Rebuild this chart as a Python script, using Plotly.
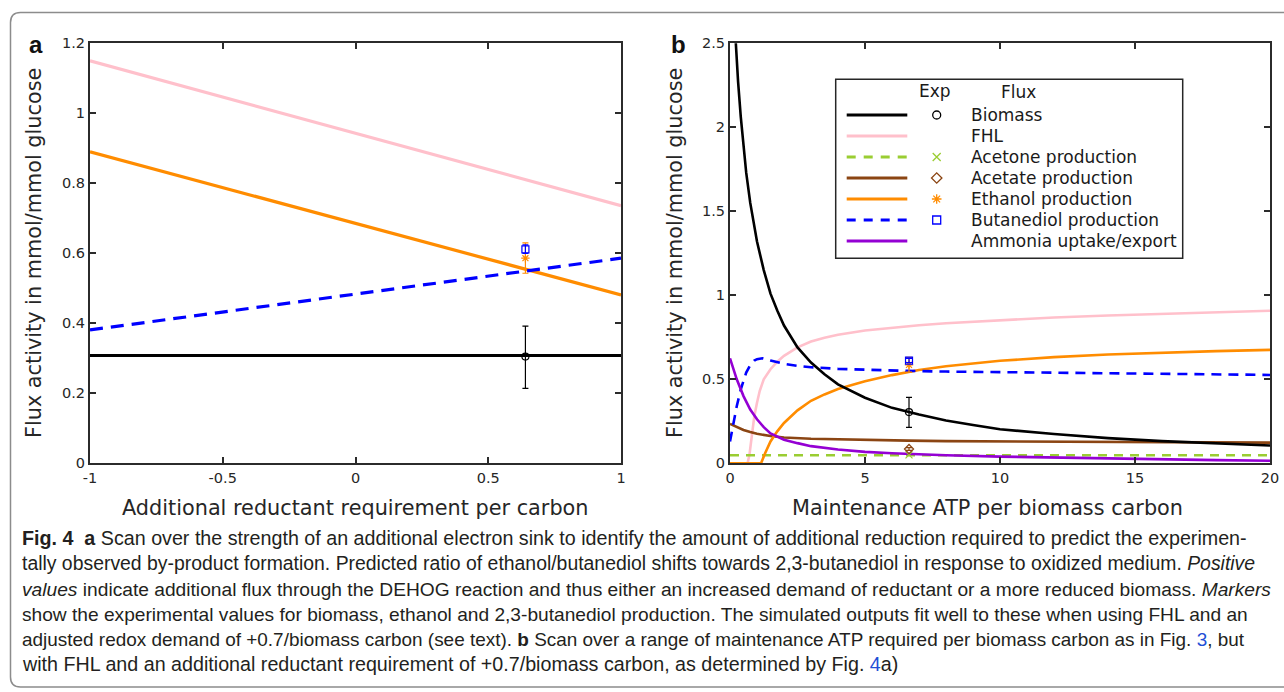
import plotly.graph_objects as go

W, H = 1284, 692

# ---------------- data ----------------
# Panel a: additional reductant requirement per carbon
a_x = [-1, -0.5, 0, 0.5, 1]
a_biomass = [0.308, 0.308, 0.308, 0.308, 0.308]
a_fhl = [1.150, 1.046, 0.943, 0.839, 0.736]
a_ethanol = [0.890, 0.788, 0.686, 0.583, 0.481]
a_butanediol = [0.381, 0.432, 0.484, 0.535, 0.586]

# experimental points (shared by both panels)
exp_x_a = 0.64
exp_x_b = 6.63
exp_biomass = 0.305
exp_biomass_err = (0.087, 0.091)
exp_ethanol = 0.586
exp_ethanol_err = (0.044, 0.043)
exp_butanediol = 0.611
exp_butanediol_err = (0.013, 0.011)
exp_acetone = 0.05
exp_acetate = 0.085
exp_acetate_err = (0.008, 0.008)

# Panel b: maintenance ATP per biomass carbon
b_biomass_x = [0.15, 0.2, 0.3, 0.4, 0.5, 0.6, 0.75, 0.9, 1.0, 1.25, 1.5, 1.75, 2, 2.5, 3, 3.5, 4, 5, 6, 7, 8, 9, 10, 12, 14, 16, 18, 20]
b_biomass = [2.68, 2.53, 2.27, 2.06, 1.88, 1.73, 1.55, 1.40, 1.32, 1.15, 1.01, 0.91, 0.82, 0.69, 0.60, 0.53, 0.47, 0.39, 0.33, 0.29, 0.255, 0.228, 0.203, 0.174, 0.150, 0.132, 0.118, 0.106]

b_fhl_x = [0, 0.65, 0.72, 0.8, 0.9, 1.0, 1.1, 1.25, 1.5, 1.75, 2, 2.5, 3, 3.5, 4, 5, 6, 7, 8, 10, 12, 14, 16, 18, 20]
b_fhl = [0, 0, 0.05, 0.15, 0.28, 0.36, 0.43, 0.50, 0.56, 0.605, 0.64, 0.69, 0.725, 0.748, 0.765, 0.79, 0.808, 0.822, 0.834, 0.852, 0.868, 0.880, 0.890, 0.899, 0.908]

b_acetone_x = [0, 20]
b_acetone = [0.048, 0.048]

b_acetate_x = [0, 0.25, 0.5, 0.75, 1, 1.5, 2, 3, 4, 5, 6.6, 8, 10, 12, 14, 16, 18, 20]
b_acetate = [0.235, 0.215, 0.198, 0.186, 0.176, 0.162, 0.154, 0.146, 0.142, 0.139, 0.135, 0.132, 0.130, 0.128, 0.127, 0.125, 0.124, 0.123]

b_ethanol_x = [0, 1.15, 1.3, 1.5, 1.75, 2, 2.5, 3, 3.5, 4, 5, 6, 7, 8, 10, 12, 14, 16, 18, 20]
b_ethanol = [0, 0, 0.06, 0.13, 0.19, 0.24, 0.315, 0.372, 0.41, 0.442, 0.488, 0.525, 0.555, 0.578, 0.61, 0.632, 0.648, 0.66, 0.668, 0.675]

b_butanediol_x = [0, 0.1, 0.25, 0.4, 0.5, 0.6, 0.75, 0.9, 1.0, 1.2, 1.5, 2, 2.5, 3, 4, 5, 6.6, 8, 10, 12, 14, 16, 18, 20]
b_butanediol = [0.13, 0.22, 0.34, 0.44, 0.49, 0.54, 0.585, 0.612, 0.62, 0.625, 0.612, 0.592, 0.58, 0.572, 0.562, 0.556, 0.55, 0.546, 0.542, 0.538, 0.535, 0.532, 0.529, 0.526]

b_ammonia_x = [0, 0.25, 0.5, 0.75, 1, 1.25, 1.5, 2, 2.5, 3, 4, 5, 6, 7, 8, 10, 12, 14, 16, 18, 20]
b_ammonia = [0.625, 0.50, 0.40, 0.32, 0.262, 0.215, 0.178, 0.14, 0.12, 0.102, 0.082, 0.068, 0.06, 0.053, 0.048, 0.04, 0.034, 0.028, 0.023, 0.019, 0.015]

# legend / series styling
series_names = ["Biomass", "FHL", "Acetone production", "Acetate production",
                "Ethanol production", "Butanediol production", "Ammonia uptake/export"]
series_colors = ["#000000", "#ffc0cb", "#9acd32", "#8b4513", "#ff8c00", "#0000ff", "#9400d3"]
series_dash = ["solid", "solid", "dash", "solid", "solid", "dash", "solid"]
series_symbols = ["circle-open", None, "x-thin-open", "diamond-open", "asterisk-open", "square-open", None]

a_ticks = [-1, -0.5, 0, 0.5, 1]
a_ticktext = ["-1", "-0.5", "0", "0.5", "1"]

# ---------------- layout helpers ----------------
def px_x(p):
    return p / W

def px_y(p):
    return 1 - p / H

A_X0, A_X1 = 90, 621
B_X0, B_X1 = 730, 1270
P_Y0, P_Y1 = 43.3, 463.3

AX_COL = "#2b2b2b"
TICK_FONT = dict(family="DejaVu Sans", size=14.5, color="#262626")

fig = go.Figure()

C = dict(zip(series_names, series_colors))
D = dict(zip(series_names, series_dash))

DASH_A = "13px,8px"
DASH_B = "10px,7px"
DASH_G = "9px,7px"


def dash_for(name, panel):
    if D[name] != "dash":
        return "solid"
    if name == "Acetone production":
        return DASH_G
    return DASH_A if panel == "a" else DASH_B

# ----- panel a traces -----
for name, ys in [("FHL", a_fhl), ("Ethanol production", a_ethanol),
                 ("Butanediol production", a_butanediol), ("Biomass", a_biomass)]:
    fig.add_trace(go.Scatter(x=a_x, y=ys, mode="lines", xaxis="x", yaxis="y",
                             line=dict(color=C[name], width=3.2, dash=dash_for(name, "a")),
                             showlegend=False, hoverinfo="skip"))

def exp_point(xv, yv, err, name, xa, ya):
    sym = dict(zip(series_names, series_symbols))[name]
    kw = {}
    if err is not None:
        kw["error_y"] = dict(type="data", symmetric=False, array=[err[0]], arrayminus=[err[1]],
                             color=C[name] if name != "Biomass" else "#000000",
                             thickness=1.2, width=3)
    fig.add_trace(go.Scatter(x=[xv], y=[yv], mode="markers", xaxis=xa, yaxis=ya,
                             marker=dict(symbol=sym, size=7, color=C[name],
                                         line=dict(color=C[name], width=1.2)),
                             showlegend=False, hoverinfo="skip", cliponaxis=False, **kw))

exp_point(exp_x_a, exp_biomass, exp_biomass_err, "Biomass", "x", "y")
exp_point(exp_x_a, exp_ethanol, exp_ethanol_err, "Ethanol production", "x", "y")
exp_point(exp_x_a, exp_butanediol, exp_butanediol_err, "Butanediol production", "x", "y")

# ----- panel b traces -----
b_series = [("Biomass", b_biomass_x, b_biomass), ("FHL", b_fhl_x, b_fhl),
            ("Acetone production", b_acetone_x, b_acetone),
            ("Acetate production", b_acetate_x, b_acetate),
            ("Ethanol production", b_ethanol_x, b_ethanol),
            ("Butanediol production", b_butanediol_x, b_butanediol),
            ("Ammonia uptake/export", b_ammonia_x, b_ammonia)]
order_b = ["FHL", "Acetone production", "Acetate production", "Ethanol production",
           "Butanediol production", "Biomass", "Ammonia uptake/export"]
bmap = {n: (xs, ys) for n, xs, ys in b_series}
for name in order_b:
    xs, ys = bmap[name]
    fig.add_trace(go.Scatter(x=xs, y=ys, mode="lines", xaxis="x2", yaxis="y2",
                             line=dict(color=C[name], width=2.6, dash=dash_for(name, "b")),
                             showlegend=False, hoverinfo="skip"))

exp_point(exp_x_b, exp_biomass, exp_biomass_err, "Biomass", "x2", "y2")
exp_point(exp_x_b, exp_acetone, None, "Acetone production", "x2", "y2")
exp_point(exp_x_b, exp_acetate, exp_acetate_err, "Acetate production", "x2", "y2")
exp_point(exp_x_b, exp_ethanol, exp_ethanol_err, "Ethanol production", "x2", "y2")
exp_point(exp_x_b, exp_butanediol, exp_butanediol_err, "Butanediol production", "x2", "y2")

# ----- legend (drawn on helper axis x3/y3 in local pixel units) -----
LG_X0, LG_X1, LG_Y0, LG_Y1 = 835.7, 1182.7, 79.3, 258.3
lg_w, lg_h = LG_X1 - LG_X0, LG_Y1 - LG_Y0
ROW0, ROWSTEP = 35.7, 21.0
for i, name in enumerate(series_names):
    ry = ROW0 + i * ROWSTEP
    fig.add_trace(go.Scatter(x=[11, 71.6], y=[ry, ry], mode="lines", xaxis="x3", yaxis="y3",
                             line=dict(color=C[name], width=3.2,
                                       dash=("9px,8px" if D[name] == "dash" else "solid")),
                             showlegend=False, hoverinfo="skip"))
    sym = series_symbols[i]
    if sym:
        fig.add_trace(go.Scatter(x=[101], y=[ry], mode="markers", xaxis="x3", yaxis="y3",
                                 marker=dict(symbol=sym, size=8, color=C[name],
                                             line=dict(color=C[name], width=1.3)),
                                 showlegend=False, hoverinfo="skip"))

annotations = []
LEG_FONT = dict(family="DejaVu Sans", size=17, color="#1a1a1a")
annotations.append(dict(x=99.3, y=11.4, xref="x3", yref="y3", text="Exp", showarrow=False,
                        font=LEG_FONT, xanchor="center", yanchor="middle"))
annotations.append(dict(x=183, y=13, xref="x3", yref="y3", text="Flux", showarrow=False,
                        font=LEG_FONT, xanchor="center", yanchor="middle"))
for i, name in enumerate(series_names):
    annotations.append(dict(x=133.3, y=ROW0 + i * ROWSTEP, xref="x3", yref="y3", text=name,
                            showarrow=False, font=LEG_FONT, xanchor="left", yanchor="middle"))

shapes = []
shapes.append(dict(type="rect", xref="paper", yref="paper",
                   x0=px_x(LG_X0), x1=px_x(LG_X1), y0=px_y(LG_Y1), y1=px_y(LG_Y0),
                   line=dict(color="#262626", width=1.5), fillcolor="white", layer="below"))

# outer rounded frame (right side runs off the page)
fl, ft, fb, r = 10.5, 12.5, 687, 10
path = (f"M {px_x(1300)},{px_y(ft)} L {px_x(fl + r)},{px_y(ft)} "
        f"Q {px_x(fl)},{px_y(ft)} {px_x(fl)},{px_y(ft + r)} "
        f"L {px_x(fl)},{px_y(fb - r)} Q {px_x(fl)},{px_y(fb)} {px_x(fl + r)},{px_y(fb)} "
        f"L {px_x(1300)},{px_y(fb)}")
shapes.append(dict(type="path", path=path, xref="paper", yref="paper",
                   line=dict(color="#8c8c8c", width=1.5), layer="below"))

# axis titles & panel letters
TITLE_FONT = dict(family="DejaVu Sans", size=20.8, color="#262626")
annotations += [
    dict(x=px_x(355), y=px_y(508), xref="paper", yref="paper", showarrow=False,
         text="Additional reductant requirement per carbon", font=TITLE_FONT,
         xanchor="center", yanchor="middle"),
    dict(x=px_x(987), y=px_y(508), xref="paper", yref="paper", showarrow=False,
         text="Maintenance ATP per biomass carbon", font=TITLE_FONT,
         xanchor="center", yanchor="middle"),
    dict(x=px_x(34), y=px_y(253), xref="paper", yref="paper", showarrow=False,
         text="Flux activity in mmol/mmol glucose", font=TITLE_FONT, textangle=-90,
         xanchor="center", yanchor="middle"),
    dict(x=px_x(675), y=px_y(253), xref="paper", yref="paper", showarrow=False,
         text="Flux activity in mmol/mmol glucose", font=TITLE_FONT, textangle=-90,
         xanchor="center", yanchor="middle"),
    dict(x=px_x(36), y=px_y(44), xref="paper", yref="paper", showarrow=False,
         text="<b>a</b>", font=dict(family="Liberation Sans", size=24, color="#111"),
         xanchor="center", yanchor="middle"),
    dict(x=px_x(678), y=px_y(45), xref="paper", yref="paper", showarrow=False,
         text="<b>b</b>", font=dict(family="Liberation Sans", size=24, color="#111"),
         xanchor="center", yanchor="middle"),
]

# caption
LINK = "#1f4fd6"
caption_lines = [
    "<b>Fig. 4  a</b> Scan over the strength of an additional electron sink to identify the amount of additional reduction required to predict the experimen-",
    "tally observed by-product formation. Predicted ratio of ethanol/butanediol shifts towards 2,3-butanediol in response to oxidized medium. <i>Positive</i>",
    "<i>values</i> indicate additional flux through the DEHOG reaction and thus either an increased demand of reductant or a more reduced biomass. <i>Markers</i>",
    "show the experimental values for biomass, ethanol and 2,3-butanediol production. The simulated outputs fit well to these when using FHL and an",
    f"adjusted redox demand of +0.7/biomass carbon (see text). <b>b</b> Scan over a range of maintenance ATP required per biomass carbon as in Fig. <span style='color:{LINK}'>3</span>, but",
    f"with FHL and an additional reductant requirement of +0.7/biomass carbon, as determined by Fig. <span style='color:{LINK}'>4</span>a)",
]
cap_sizes = [19.7, 19.4, 19.2, 19.15, 18.95, 19.7]
cap_y = [538, 563, 589, 614, 639, 664]
for t, yy, fs in zip(caption_lines, cap_y, cap_sizes):
    annotations.append(dict(x=px_x(20), y=px_y(yy), xref="paper", yref="paper", showarrow=False,
                            text=t, font=dict(family="Liberation Sans", size=fs, color="#231f20"),
                            xanchor="left", yanchor="middle", align="left"))

axis_common = dict(showline=True, linecolor=AX_COL, linewidth=2, mirror="allticks",
                   ticks="inside", ticklen=6, tickwidth=1.5, tickcolor=AX_COL,
                   showgrid=False, zeroline=False, tickfont=TICK_FONT, automargin=False)

fig.update_layout(
    width=W, height=H,
    margin=dict(l=0, r=0, t=0, b=0),
    paper_bgcolor="white", plot_bgcolor="rgba(0,0,0,0)",
    showlegend=False,
    xaxis=dict(domain=[px_x(A_X0), px_x(A_X1)], range=[-1, 1], anchor="y",
               tickvals=a_ticks, ticktext=a_ticktext, **axis_common),
    yaxis=dict(domain=[px_y(P_Y1), px_y(P_Y0)], range=[0, 1.2], anchor="x",
               dtick=0.2, **axis_common),
    xaxis2=dict(domain=[px_x(B_X0), px_x(B_X1)], range=[0, 20], anchor="y2",
                dtick=5, **axis_common),
    yaxis2=dict(domain=[px_y(P_Y1), px_y(P_Y0)], range=[0, 2.5], anchor="x2",
                dtick=0.5, **axis_common),
    xaxis3=dict(domain=[px_x(LG_X0), px_x(LG_X1)], range=[0, lg_w], anchor="y3",
                visible=False, fixedrange=True),
    yaxis3=dict(domain=[px_y(LG_Y1), px_y(LG_Y0)], range=[lg_h, 0], anchor="x3",
                visible=False, fixedrange=True),
    shapes=shapes,
    annotations=annotations,
)

fig.write_html("out.html", config={"displayModeBar": False},
               post_script="document.body.style.margin='0';document.body.style.overflow='hidden';")
